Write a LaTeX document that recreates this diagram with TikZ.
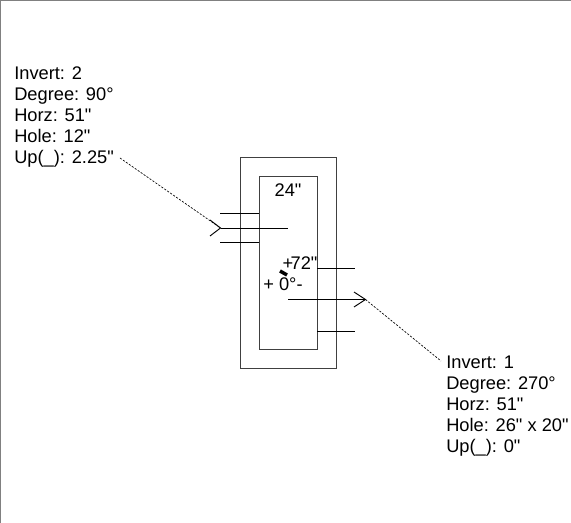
\documentclass[tikz,border=0pt]{standalone}
\usepackage{fontspec}
\setmainfont[Ligatures=TeXOff]{Liberation Sans}
\tikzset{
  wall/.style={draw={rgb, 255:red, 64; green, 64; blue, 64 },line width=0.75},
  pipe/.style={draw=black,line width=0.7},
  leader/.style={draw=black,line width=0.5,dash pattern={on 1.6pt off 1.1pt}},
  label/.style={inner sep=0pt,font=\fontsize{13.7}{15.75}\selectfont},
  info/.style={label,align=left,anchor=north west}
}
\begin{document}
\begin{tikzpicture}[x=0.75pt,y=0.75pt,yscale=-1,xscale=1]
\useasboundingbox (0,0) rectangle (571,523);

%Frame
\draw [color={rgb, 255:red, 128; green, 128; blue, 128 },line width=1.2] (0.5,523) -- (0.5,0.5) -- (571,0.5);

%Walls
\draw [wall] (240,158) rectangle (336,369);
\draw [wall] (259,177) rectangle (317,350);

%Pipe ends
\coordinate (tipA) at (220.5,228);
\coordinate (tipB) at (365.5,299.5);
\coordinate (startA) at (120,158);
\coordinate (startB) at (441,361);

%Left pipe
\draw [pipe] (220,213) -- (259,213);
\draw [pipe] (tipA) -- (288,228);
\draw [pipe] (220,242) -- (259,242);
\draw [pipe] (210,220) -- (tipA) -- (210,236);

%Right pipe
\draw [pipe] (317,268) -- (355,268);
\draw [pipe] (288,299.5) -- (tipB);
\draw [pipe] (317,331) -- (355,331);
\draw [pipe] (354,292) -- (tipB) -- (354,307);

%Leaders
\draw [leader] (startA) -- (tipA);
\draw [leader] (tipB) -- (startB);

%Mark
\draw [line width=2.6] (280,271) -- (287,275);

% Text Node
\node [label] (width) at (288,190) {24"};
% Text Node
\node [label] (plus) at (288,264) {+};
% Text Node
\node [label] (height) at (304,263) {72"};
% Text Node
\node [label] (angle) at (283,284) {+ 0°-};
% Text Node
\node [info] (infoA) at (14,66) {Invert: 2\\Degree: 90°\\Horz: 51"\\Hole: 12"\\Up(\_): 2.25"};
% Text Node
\node [info] (infoB) at (446,356) {Invert: 1\\Degree: 270°\\Horz: 51"\\Hole: 26" x 20"\\Up(\_): 0"};

\end{tikzpicture}
\end{document}
